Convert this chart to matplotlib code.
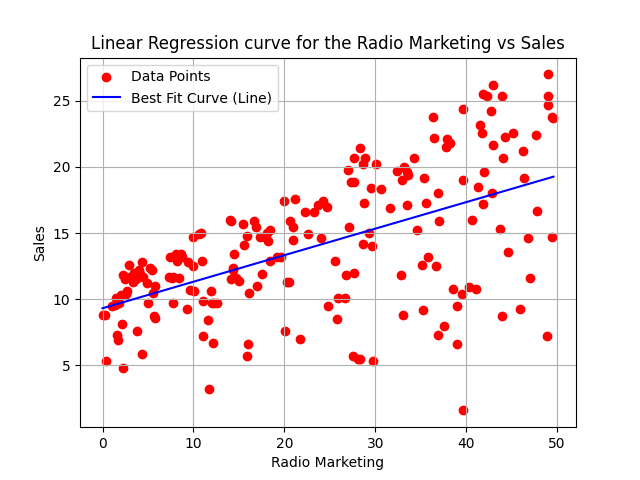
import numpy as np
import matplotlib.pyplot as plt

pts = [
    (0.0, 8.8), (0.3, 8.8), (0.4, 5.3), (1.0, 9.5), (1.4, 9.6), (1.5, 10.1), (1.6, 7.3), (1.7, 6.9),
    (1.8, 9.7), (2.0, 10.3), (2.1, 8.1), (2.2, 4.8), (2.3, 11.8), (2.5, 11.5), (2.6, 10.4), (2.7, 10.6),
    (2.9, 12.6), (3.0, 11.7), (3.3, 11.3), (3.5, 12.0), (3.7, 11.5), (3.8, 7.6), (4.0, 12.2), (4.1, 11.9),
    (4.3, 12.8), (4.3, 5.9), (4.5, 11.7), (4.9, 11.2), (5.0, 9.7), (5.2, 12.4), (5.4, 12.2), (5.6, 10.5),
    (5.7, 8.7), (5.8, 8.6), (5.8, 11.0), (7.3, 11.7), (7.4, 13.2), (7.6, 11.6), (7.7, 9.7), (7.8, 11.7),
    (8.1, 13.4), (8.2, 12.9), (8.4, 11.6), (8.6, 13.4), (8.7, 13.2), (9.3, 9.3), (9.4, 12.8), (9.6, 10.7),
    (9.9, 12.5), (10.0, 14.7), (10.1, 10.6), (10.6, 14.9), (10.8, 15.0), (10.9, 12.9), (11.0, 9.9),
    (11.1, 7.2), (11.6, 8.4), (11.7, 3.2), (11.9, 10.6), (12.0, 9.7), (12.2, 6.7), (12.3, 9.7), (12.6, 9.7),
    (14.0, 16.0), (14.1, 15.9), (14.1, 11.5), (14.3, 12.2), (14.4, 12.4), (14.5, 13.4), (14.7, 11.6),
    (15.0, 11.4), (15.4, 15.7), (15.6, 14.1), (15.9, 14.8), (15.9, 5.7), (16.0, 6.6), (16.1, 10.5),
    (16.7, 15.9), (16.9, 15.5), (17.0, 11.0), (17.3, 14.7), (17.5, 11.9), (17.9, 14.7), (18.1, 15.0),
    (18.2, 14.4), (18.4, 15.2), (18.4, 12.9), (19.2, 13.2), (19.6, 13.2), (20.0, 17.4), (20.1, 7.6),
    (20.3, 11.3), (20.5, 11.3), (20.6, 15.9), (20.9, 14.5), (21.0, 15.5), (21.2, 17.6), (21.7, 7.0),
    (22.3, 16.6), (22.6, 14.9), (23.3, 16.6), (23.7, 17.1), (24.0, 14.6), (24.2, 17.4), (24.7, 17.0),
    (24.8, 9.5), (25.6, 12.9), (25.8, 8.5), (25.9, 10.1), (26.7, 10.1), (26.8, 11.8), (27.0, 19.8),
    (27.1, 15.5), (27.3, 18.9), (27.5, 5.7), (27.7, 12.0), (27.7, 20.7), (27.7, 18.9), (28.1, 5.5),
    (28.3, 5.5), (28.3, 21.4), (28.6, 14.2), (28.7, 20.2), (28.8, 17.3), (28.9, 20.7), (29.3, 15.0),
    (29.5, 18.4), (29.6, 14.0), (29.7, 5.3), (30.1, 20.2), (30.6, 18.3), (31.6, 16.9), (32.4, 19.7),
    (32.8, 11.8), (32.9, 19.0), (33.0, 8.8), (33.2, 20.0), (33.5, 17.1), (33.5, 19.6), (33.6, 19.4),
    (34.3, 20.7), (34.6, 15.2), (35.1, 12.6), (35.2, 9.2), (35.4, 19.2), (35.6, 17.3), (35.8, 13.2),
    (36.3, 23.8), (36.5, 22.2), (36.7, 12.5), (36.9, 18.0), (36.9, 7.3), (37.0, 15.9), (37.6, 8.0),
    (37.8, 21.5), (37.9, 22.1), (38.2, 21.8), (38.6, 10.8), (39.0, 6.6), (39.0, 9.5), (39.5, 10.4),
    (39.6, 1.6), (39.6, 19.0), (39.7, 24.4), (40.3, 10.9), (40.6, 16.0), (41.1, 10.8), (41.3, 18.5),
    (41.5, 23.2), (41.7, 22.6), (41.8, 17.2), (41.9, 25.5), (42.0, 19.6), (42.3, 25.4), (42.7, 24.2),
    (42.8, 18.0), (42.9, 21.7), (43.0, 26.2), (43.7, 15.3), (43.9, 8.7), (43.9, 25.4), (44.1, 20.7),
    (44.3, 22.3), (44.6, 13.6), (45.2, 22.6), (45.9, 9.3), (46.2, 21.2), (46.4, 19.2), (46.8, 14.6),
    (47.0, 11.6), (47.7, 22.4), (47.8, 16.7), (48.9, 7.2), (49.0, 27.0), (49.0, 25.4), (49.0, 24.7),
    (49.4, 23.8), (49.6, 23.7), (49.4, 14.7),
]
radio = np.array([p[0] for p in pts])
sales = np.array([p[1] for p in pts])

# least squares line
slope, intercept = np.polyfit(radio, sales, 1)
xs = np.array([radio.min(), radio.max()])

fig = plt.figure(figsize=(6.4, 4.8), dpi=100)
plt.scatter(radio, sales, color='red', label='Data Points')
plt.plot(xs, intercept + slope * xs, color='blue', label='Best Fit Curve (Line)')
plt.title('Linear Regression curve for the Radio Marketing vs Sales')
plt.xlabel('Radio Marketing')
plt.ylabel('Sales')
plt.legend(loc='upper left')
plt.grid(True)
plt.savefig('out.png')
